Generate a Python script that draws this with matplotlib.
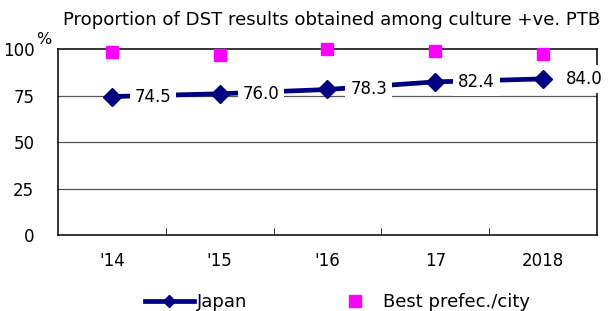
import matplotlib.pyplot as plt
from matplotlib.lines import Line2D
import numpy as np

years = ["'14", "'15", "'16", "17", "2018"]
japan = [74.5, 76.0, 78.3, 82.4, 84.0]
best = [98.5, 96.8, 100.0, 99.1, 97.3]

plt.rcParams['font.family'] = 'DejaVu Sans'

fig = plt.figure(figsize=(6.16, 3.11), dpi=100)
ax = fig.add_axes([0.094, 0.244, 0.875, 0.598])

x = np.arange(len(years))
ax.plot(x, japan, color='#000080', linewidth=3.4, marker='D', markersize=9.5, zorder=3)
ax.plot(x, best, linestyle='none', marker='s', markersize=8, color='#ff00ff',
        zorder=4, clip_on=False)

for xi, v in zip(x, japan):
    ax.annotate(f"{v:.1f}", (xi, v), xytext=(16.5, 0), textcoords='offset points',
                fontsize=12, va='center', ha='left', zorder=5,
                bbox=dict(boxstyle='square,pad=0.3', fc='white', ec='none'))

ax.set_xlim(-0.5, len(years) - 0.5)
ax.set_ylim(0, 100)
ax.set_yticks([0, 25, 50, 75, 100])
ax.set_yticklabels(['0', '25', '50', '75', '100'])
ax.set_xticks(x)
ax.set_xticklabels(years)
ax.set_xticks(np.arange(0.5, len(years) - 0.5, 1), minor=True)
ax.tick_params(axis='x', which='major', length=0, pad=12, labelsize=12)
ax.tick_params(axis='x', which='minor', direction='in', length=5)
ax.tick_params(axis='y', length=0, pad=17, labelsize=12)
for g in [25, 50, 75]:
    ax.axhline(g, color='#555555', linewidth=0.9, zorder=1)
for s in ax.spines.values():
    s.set_linewidth(1.1)

fig.text(44 / 616, 1 - 39 / 311, '%', fontsize=11.5, ha='center', va='center')
fig.text(63 / 616, 1 - 20 / 311, 'Proportion of DST results obtained among culture +ve. PTB',
         fontsize=13.1, ha='left', va='center')

handles = [Line2D([], [], color='#000080', linewidth=3.4, marker='D', markersize=6),
           Line2D([], [], linestyle='none', marker='s', markersize=8, color='#ff00ff')]
fig.legend(handles, ['Japan', 'Best prefec./city'], loc='center left',
           bbox_to_anchor=(145 / 616, 1 - 302 / 311), ncol=2, frameon=False,
           fontsize=13, columnspacing=4.6, handlelength=2.7, handletextpad=0.2,
           borderpad=0, borderaxespad=0)

fig.savefig('out.png', dpi=100)
